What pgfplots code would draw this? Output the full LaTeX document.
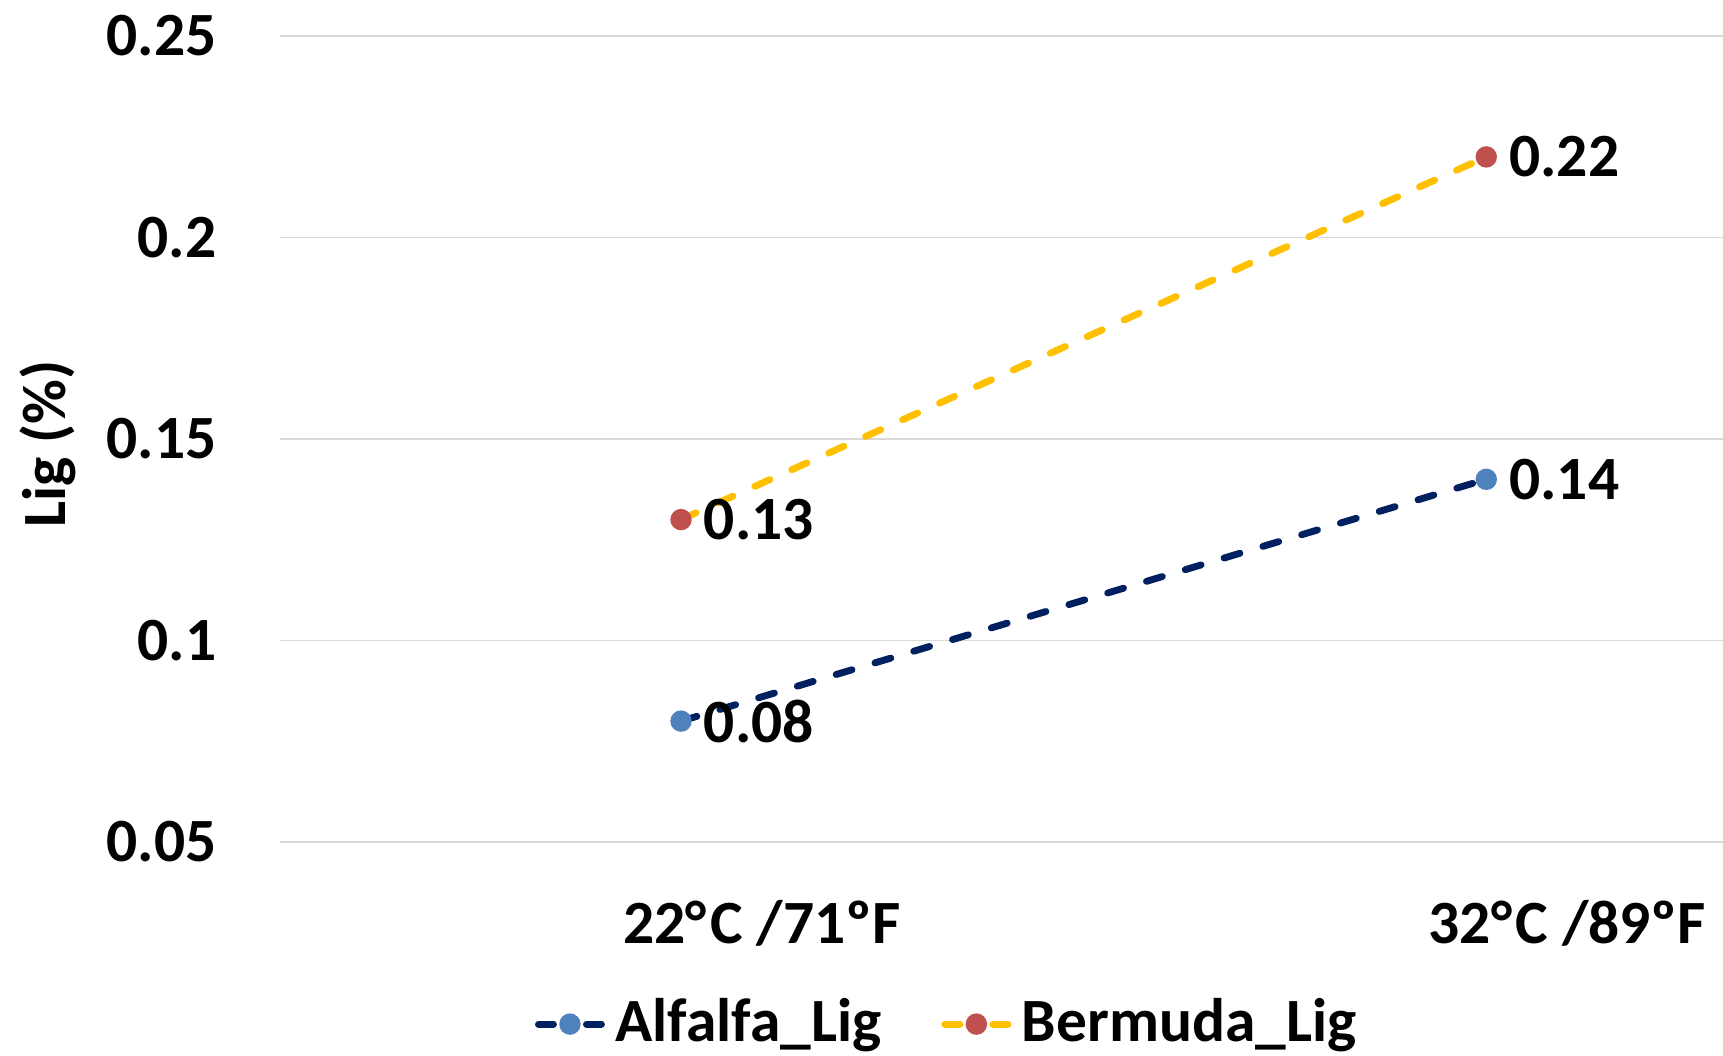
\documentclass[border=0pt]{standalone}
\usepackage{pgfplots}
\pgfplotsset{compat=1.18}
\usepackage{fontspec}
\setmainfont{Carlito}

\definecolor{alfline}{HTML}{002060}
\definecolor{alfmark}{HTML}{4F81BD}
\definecolor{berline}{HTML}{FFC000}
\definecolor{bermark}{HTML}{C0504D}
\definecolor{gridgray}{HTML}{D9D9D9}

\begin{document}
\fontsize{20.5}{24}\selectfont\bfseries
\begin{tikzpicture}
\path[use as bounding box] (-93.33pt,-71.33pt) rectangle (481pt,280.67pt);
\begin{axis}[
  at={(0pt,0pt)}, anchor=south west,
  scale only axis, width=481pt, height=268.67pt,
  xmin=-0.498, xmax=1.294, ymin=0.05, ymax=0.25,
  clip=false,
  xtick={0,1},
  xticklabels={22°\kern1.2pt C /71ºF, 32°\kern1.2pt C /89ºF},
  xticklabel style={anchor=center, xshift=27pt, yshift=-27pt},
  ytick={0.05,0.1,0.15,0.2,0.25},
  yticklabels={0.05,0.1,0.15,0.2,0.25},
  yticklabel style={anchor=east, inner sep=0pt, xshift=-21pt},
  major tick length=0pt,
  axis line style={draw=none},
  ymajorgrids,
  grid style={gridgray, line width=0.5pt},
  ylabel={Lig (\%)},
  every axis y label/.style={at={(axis description cs:-0.1607,0.494)}, rotate=90, anchor=center},
  /pgf/number format/assume math mode=true,
  nodes near coords={\pgfmathprintnumber[fixed, precision=2, fixed zerofill]{\pgfplotspointmeta}},
  point meta=y,
  nodes near coords style={anchor=west, inner sep=0pt, xshift=6.5pt, text=black},
  legend columns=2,
  legend style={at={(axis description cs:0,0)}, anchor=west, xshift=85pt, yshift=-60.7pt,
    draw=none, fill=none, inner sep=0pt, outer sep=0pt,
    nodes={inner sep=0pt},
    /tikz/every odd column/.append style={column sep=3.5pt},
    /tikz/every even column/.append style={column sep=20pt}},
  legend image code/.code={
    \draw[#1, mark=none, solid, line cap=round] (0pt,0pt) -- (5pt,0pt);
    \draw[#1, mark=none, solid, line cap=round] (16pt,0pt) -- (21pt,0pt);
    \draw[#1] plot coordinates {(10.5pt,0pt)};
  },
]
\addplot[alfline, line width=2.3pt, line cap=round, dash pattern=on 5.5pt off 8pt,
  mark=*, mark size=2.4pt, mark options={solid, fill=alfmark, draw=alfmark}]
  coordinates {(0,0.08) (1,0.14)};
\addlegendentry{Alfalfa\_Lig}
\addplot[berline, line width=2.3pt, line cap=round, dash pattern=on 5.5pt off 8pt,
  mark=*, mark size=2.4pt, mark options={solid, fill=bermark, draw=bermark}]
  coordinates {(0,0.13) (1,0.22)};
\addlegendentry{Bermuda\_Lig}
\end{axis}
\end{tikzpicture}
\end{document}
